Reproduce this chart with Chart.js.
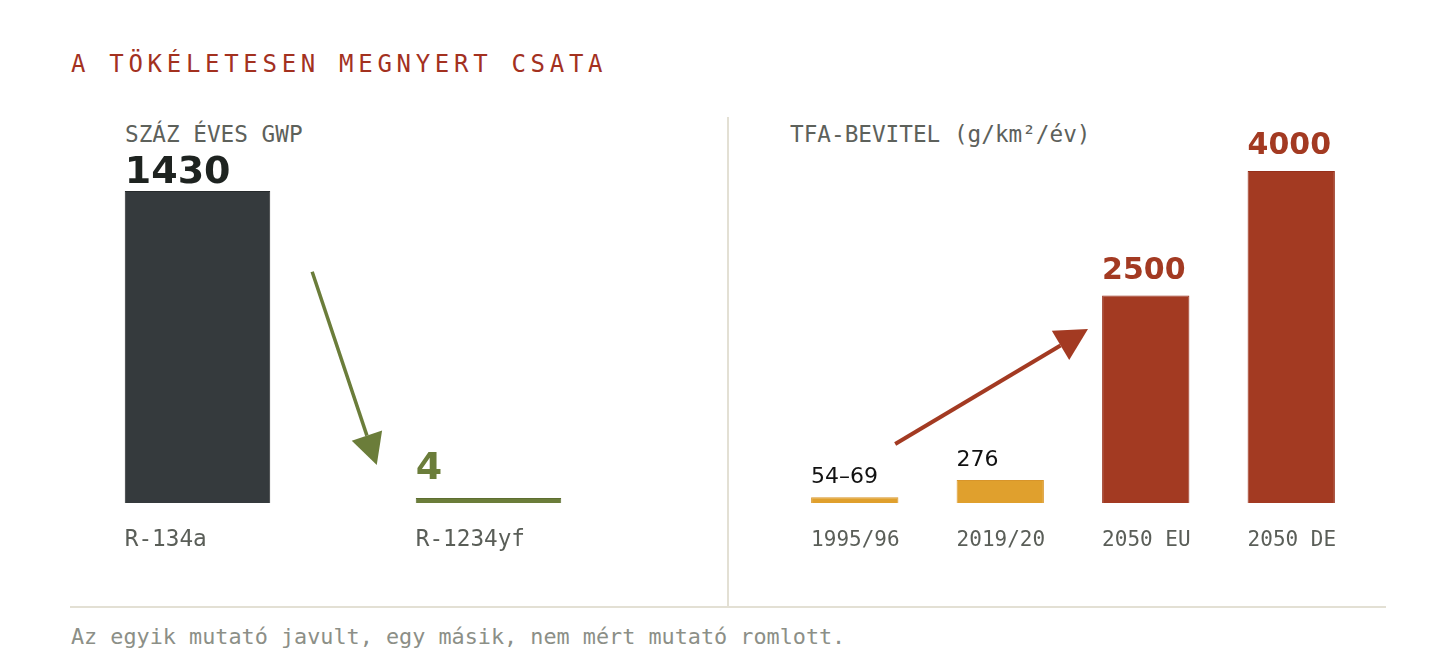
<!DOCTYPE html>
<html>
<head>
<meta charset="utf-8">
<script src="https://cdn.jsdelivr.net/npm/chart.js@4.4.1/dist/chart.umd.min.js"></script>
<style>
  html, body { margin: 0; padding: 0; background: #ffffff; }
  #wrap { position: relative; width: 1456px; height: 666px; overflow: hidden; background: #ffffff; }
  .txt { position: absolute; white-space: pre; line-height: 1; font-family: "DejaVu Sans Mono", monospace; }
  #title { left: 71px; top: 52px; font-size: 24px; letter-spacing: 4.7px; color: #a3311f; }
  #subL { left: 125px; top: 122.7px; font-size: 22.7px; color: #5d615b; }
  #subR { left: 790px; top: 122.7px; font-size: 22.7px; color: #5d615b; }
  #foot { left: 71px; top: 625.6px; font-size: 21.8px; color: #8c8f87; }
  #vline { position: absolute; left: 727px; top: 117px; width: 2px; height: 489px; background: #e3e0d4; }
  #hline { position: absolute; left: 70px; top: 606px; width: 1316px; height: 2px; background: #e3e0d4; }
  canvas { position: absolute; top: 0; }
  #cL { left: 0; }
  #cR { left: 728px; }
</style>
</head>
<body>
<div id="wrap">
  <div id="vline"></div>
  <div id="hline"></div>
  <div class="txt" id="title"></div>
  <div class="txt" id="subL"></div>
  <div class="txt" id="subR"></div>
  <div class="txt" id="foot"></div>
  <canvas id="cL" width="728" height="666"></canvas>
  <canvas id="cR" width="728" height="666"></canvas>
</div>
<script>
// ---------- DATA ----------
const titleText = "A TÖKÉLETESEN MEGNYERT CSATA";
const footerText = "Az egyik mutató javult, egy másik, nem mért mutató romlott.";

const gwpTitle = "SZÁZ ÉVES GWP";
const gwpCategories = ["R-134a", "R-1234yf"];
const gwpValues = [1430, 4];
const gwpValueLabels = ["1430", "4"];

const tfaTitle = "TFA-BEVITEL (g/km²/év)";
const tfaCategories = ["1995/96", "2019/20", "2050 EU", "2050 DE"];
const tfaValues = [69, 276, 2500, 4000];
const tfaValueLabels = ["54–69", "276", "2500", "4000"];

// arrows in data space: [category index (fractional), value]
const gwpArrowFrom = [0.394, 1060];
const gwpArrowTo = [0.616, 174];
const tfaArrowFrom = [0.278, 711];
const tfaArrowTo = [1.603, 2096];

// ---------- STYLES ----------
const gwpStyle = {
  barColors: ["#353a3d", "#6b7d3a"],
  borderColors: ["#262a2c", "#5d6e30"],
  labelColors: ["#1e2320", "#6b7d3a"],
  labelFonts: ['bold 38px "DejaVu Sans"', 'bold 38px "DejaVu Sans"'],
  labelGaps: [8, 19],
  arrowColor: "#6b7d3a", arrowWidth: 3.5, headLen: 31, headWidth: 32,
  catFont: '22.7px "DejaVu Sans Mono"', catColor: "#5a5e58", catOffset: 43
};
const tfaStyle = {
  barColors: ["#e0a02d", "#e0a02d", "#a33a22", "#a33a22"],
  borderColors: ["#d8952a", "#d8952a", "#962f1a", "#962f1a"],
  labelColors: ["#111111", "#111111", "#a33a22", "#a33a22"],
  labelFonts: ['22px "DejaVu Sans"', '22px "DejaVu Sans"', 'bold 30px "DejaVu Sans"', 'bold 30px "DejaVu Sans"'],
  labelGaps: [14, 14, 17, 17],
  arrowColor: "#a33a22", arrowWidth: 4, headLen: 32, headWidth: 34,
  catFont: '21px "DejaVu Sans Mono"', catColor: "#5a5e58", catOffset: 43
};

document.getElementById("title").textContent = titleText;
document.getElementById("foot").textContent = footerText;
document.getElementById("subL").textContent = gwpTitle;
document.getElementById("subR").textContent = tfaTitle;

function drawArrow(ctx, x1, y1, x2, y2, color, lw, hl, hw) {
  const ang = Math.atan2(y2 - y1, x2 - x1);
  const bx = x2 - hl * Math.cos(ang), by = y2 - hl * Math.sin(ang);
  ctx.save();
  ctx.strokeStyle = color; ctx.fillStyle = color; ctx.lineWidth = lw; ctx.lineCap = "butt";
  ctx.beginPath(); ctx.moveTo(x1, y1); ctx.lineTo(bx, by); ctx.stroke();
  const px = -Math.sin(ang) * hw / 2, py = Math.cos(ang) * hw / 2;
  ctx.beginPath();
  ctx.moveTo(x2, y2); ctx.lineTo(bx + px, by + py); ctx.lineTo(bx - px, by - py);
  ctx.closePath(); ctx.fill();
  ctx.restore();
}

function makeDecorPlugin(valueLabels, style, arrowFrom, arrowTo) {
  return {
    id: "decor",
    afterDatasetsDraw(chart) {
      const ctx = chart.ctx;
      const meta = chart.getDatasetMeta(0);
      const xs = chart.scales.x, ys = chart.scales.y;
      const base = ys.getPixelForValue(0);
      ctx.save();
      ctx.textBaseline = "alphabetic";
      ctx.textAlign = "left";
      meta.data.forEach((bar, i) => {
        const left = bar.x - bar.width / 2;
        const top = Math.min(bar.y, bar.base);
        ctx.font = style.labelFonts[i];
        ctx.fillStyle = style.labelColors[i];
        ctx.fillText(valueLabels[i], left, top - style.labelGaps[i]);
        ctx.font = style.catFont;
        ctx.fillStyle = style.catColor;
        ctx.fillText(chart.data.labels[i], left, base + style.catOffset);
      });
      ctx.restore();
      const p0 = xs.getPixelForValue(0), p1 = xs.getPixelForValue(1);
      const fx = p0 + arrowFrom[0] * (p1 - p0), fy = ys.getPixelForValue(arrowFrom[1]);
      const tx = p0 + arrowTo[0] * (p1 - p0), ty = ys.getPixelForValue(arrowTo[1]);
      drawArrow(ctx, fx, fy, tx, ty, style.arrowColor, style.arrowWidth, style.headLen, style.headWidth);
    }
  };
}

function makeChart(id, labels, values, valueLabels, style, barPct, padding, arrowFrom, arrowTo) {
  return new Chart(document.getElementById(id), {
    type: "bar",
    data: {
      labels: labels,
      datasets: [{
        data: values,
        backgroundColor: style.barColors,
        borderColor: style.borderColors,
        borderWidth: 1,
        borderSkipped: "start",
        minBarLength: 5,
        categoryPercentage: 1,
        barPercentage: barPct
      }]
    },
    options: {
      responsive: false,
      animation: false,
      devicePixelRatio: 1,
      layout: { padding: padding },
      plugins: { legend: { display: false }, tooltip: { enabled: false } },
      scales: {
        x: { display: false, offset: true },
        y: { display: false, min: 0, max: Math.max(...values) }
      }
    },
    plugins: [makeDecorPlugin(valueLabels, style, arrowFrom, arrowTo)]
  });
}

makeChart("cL", gwpCategories, gwpValues, gwpValueLabels, gwpStyle, 0.5,
  { left: 52, right: 94, top: 191, bottom: 163 }, gwpArrowFrom, gwpArrowTo);
makeChart("cR", tfaCategories, tfaValues, tfaValueLabels, tfaStyle, 0.6,
  { left: 54, right: 92, top: 171, bottom: 163 }, tfaArrowFrom, tfaArrowTo);
</script>
</body>
</html>
